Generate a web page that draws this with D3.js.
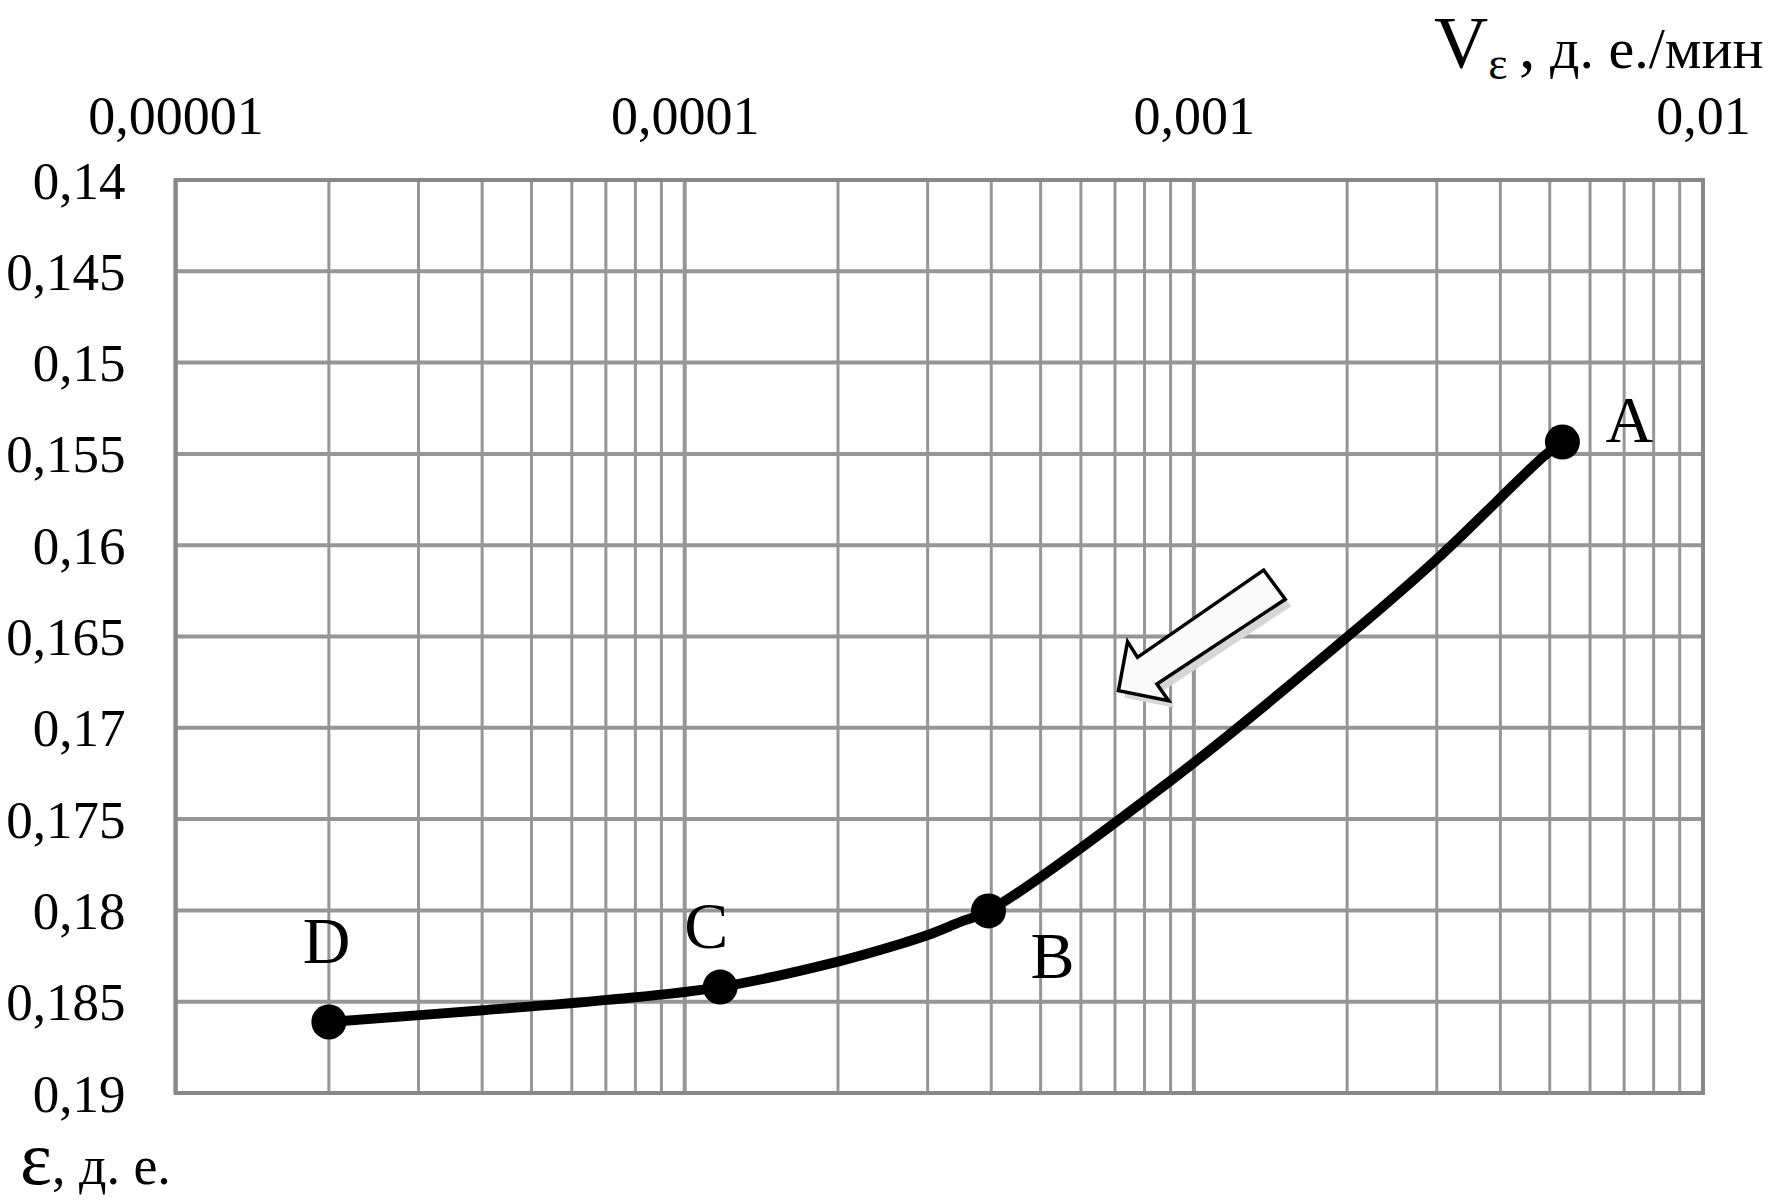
<!DOCTYPE html>
<meta charset="utf-8">
<style>
    body {
        margin: 0;
        background-color: #ffffff;
    }

    text {
        font-family: "Liberation Serif", "Times New Roman", serif;
        fill: #000;
    }

    .grid line {
        stroke: #969696;
    }

    .curve {
        fill: none;
        stroke: #000;
        stroke-width: 10px;
        stroke-linejoin: round;
        stroke-linecap: round;
    }
</style>
<svg width="1776" height="1200"></svg>

<script src="https://d3js.org/d3.v7.min.js"></script>
<script>
    // axis ticks
    let xTicks = [0.00001, 0.0001, 0.001, 0.01];
    let xTickLabels = ["0,00001", "0,0001", "0,001", "0,01"];
    let yTicks = [0.14, 0.145, 0.15, 0.155, 0.16, 0.165, 0.17, 0.175, 0.18, 0.185, 0.19];
    let yTickLabels = ["0,14", "0,145", "0,15", "0,155", "0,16", "0,165", "0,17", "0,175", "0,18", "0,185", "0,19"];

    // marked points
    let pointNames = ["A", "B", "C", "D"];
    let pointV = [0.005295, 0.000395, 0.0001174, 0.00002];
    let pointE = [0.15435, 0.18003, 0.1842, 0.18611];

    // curve, D -> A
    let curveV = [0.00002, 0.0000396, 0.0000704, 0.0001174, 0.0002, 0.000265, 0.0003, 0.000348, 0.000395, 0.0009, 0.002, 0.00303, 0.0049, 0.005295];
    let curveE = [0.18611, 0.18548, 0.1849, 0.1842, 0.1828, 0.18184, 0.18135, 0.18063, 0.18003, 0.1729, 0.16503, 0.16065, 0.15506, 0.15435];

    // hollow arrow outline (in chart units)
    let arrowV = [0.001371, 0.001512, 0.000846, 0.000892, 0.000711, 0.000741, 0.000775];
    let arrowE = [0.16136, 0.16296, 0.1676, 0.16852, 0.16797, 0.16528, 0.16614];

    let svg = d3.select("svg"),
            width = +svg.attr("width"),
            height = +svg.attr("height");

    svg.append("rect")
            .attr("width", width)
            .attr("height", height)
            .attr("fill", "#fff");

    let plotL = 175.6, plotR = 1703, plotT = 180, plotB = 1093;

    let x = d3.scaleLog().domain([0.00001, 0.01]).range([plotL, plotR]);
    let y = d3.scaleLinear().domain([0.14, 0.19]).range([plotT, plotB]);

    // grid
    let grid = svg.append("g").attr("class", "grid");

    grid.selectAll("line.v")
            .data(x.ticks())
            .enter().append("line")
            .attr("class", "v")
            .attr("x1", d => x(d)).attr("x2", d => x(d))
            .attr("y1", plotT).attr("y2", plotB)
            .attr("stroke-width", d => xTicks.indexOf(d) >= 0 ? 4 : 3);

    grid.selectAll("line.h")
            .data(yTicks)
            .enter().append("line")
            .attr("class", "h")
            .attr("x1", plotL).attr("x2", plotR)
            .attr("y1", d => y(d)).attr("y2", d => y(d))
            .attr("stroke-width", 4);

    grid.append("rect")
            .attr("x", plotL).attr("y", plotT)
            .attr("width", plotR - plotL).attr("height", plotB - plotT)
            .attr("fill", "none")
            .attr("stroke", "#888")
            .attr("stroke-width", 4);

    // axes (labels only)
    let xAxis = svg.append("g")
            .attr("transform", "translate(0," + (plotT - 46) + ")")
            .call(d3.axisTop(x).tickValues(xTicks)
                    .tickFormat((d, i) => xTickLabels[i]).tickSize(0).tickPadding(0));
    xAxis.select(".domain").remove();
    xAxis.attr("font-family", null).attr("font-size", null);
    xAxis.selectAll("text")
            .attr("dy", 0)
            .style("font-size", "54px");

    let yAxis = svg.append("g")
            .attr("transform", "translate(" + (plotL - 50) + ",0)")
            .call(d3.axisLeft(y).tickValues(yTicks)
                    .tickFormat((d, i) => yTickLabels[i]).tickSize(0).tickPadding(0));
    yAxis.select(".domain").remove();
    yAxis.attr("font-family", null).attr("font-size", null);
    yAxis.selectAll("text")
            .attr("dy", "0.34em")
            .style("font-size", "53px");

    // arrow with shadow
    let arrowPts = arrowV.map((v, i) => [x(v), y(arrowE[i])]);
    svg.append("polygon")
            .attr("points", arrowPts.map(p => (p[0] + 6) + "," + (p[1] + 7)).join(" "))
            .attr("fill", "#d6d6d6");
    svg.append("polygon")
            .attr("points", arrowPts.map(p => p.join(",")).join(" "))
            .attr("fill", "#fafafa")
            .attr("stroke", "#000")
            .attr("stroke-width", 3.5)
            .attr("stroke-linejoin", "miter");

    // curve
    let line = d3.line()
            .x((d, i) => x(curveV[i]))
            .y((d, i) => y(curveE[i]))
            .curve(d3.curveCatmullRom.alpha(0.5));

    svg.append("path")
            .attr("class", "curve")
            .attr("d", line(curveV));

    // markers
    svg.selectAll("circle.pt")
            .data(pointNames)
            .enter().append("circle")
            .attr("class", "pt")
            .attr("cx", (d, i) => x(pointV[i]))
            .attr("cy", (d, i) => y(pointE[i]))
            .attr("r", 17.5)
            .attr("fill", "#000");

    let labelOffset = {A: [43, 0], B: [42, 67], C: [-36, -39], D: [-26, -59]};

    svg.selectAll("text.pt")
            .data(pointNames)
            .enter().append("text")
            .attr("class", "pt")
            .attr("x", (d, i) => x(pointV[i]) + labelOffset[d][0])
            .attr("y", (d, i) => y(pointE[i]) + labelOffset[d][1])
            .style("font-size", "66px")
            .text(d => d);

    // axis titles
    let tx = svg.append("text")
            .attr("x", 1434)
            .attr("y", 68);
    tx.append("tspan").style("font-size", "75px").text("V");
    tx.append("tspan").style("font-size", "46px").attr("dy", 11).text("ε ");
    tx.append("tspan").style("font-size", "66px").attr("dy", -11).text(",");
    tx.append("tspan").style("font-size", "58px").text(" д. е./мин");

    let ty = svg.append("text")
            .attr("x", 20)
            .attr("y", 1184);
    ty.append("tspan").style("font-size", "76px").text("ε");
    ty.append("tspan").style("font-size", "54px").text(", д. е.");
</script>
</html>
